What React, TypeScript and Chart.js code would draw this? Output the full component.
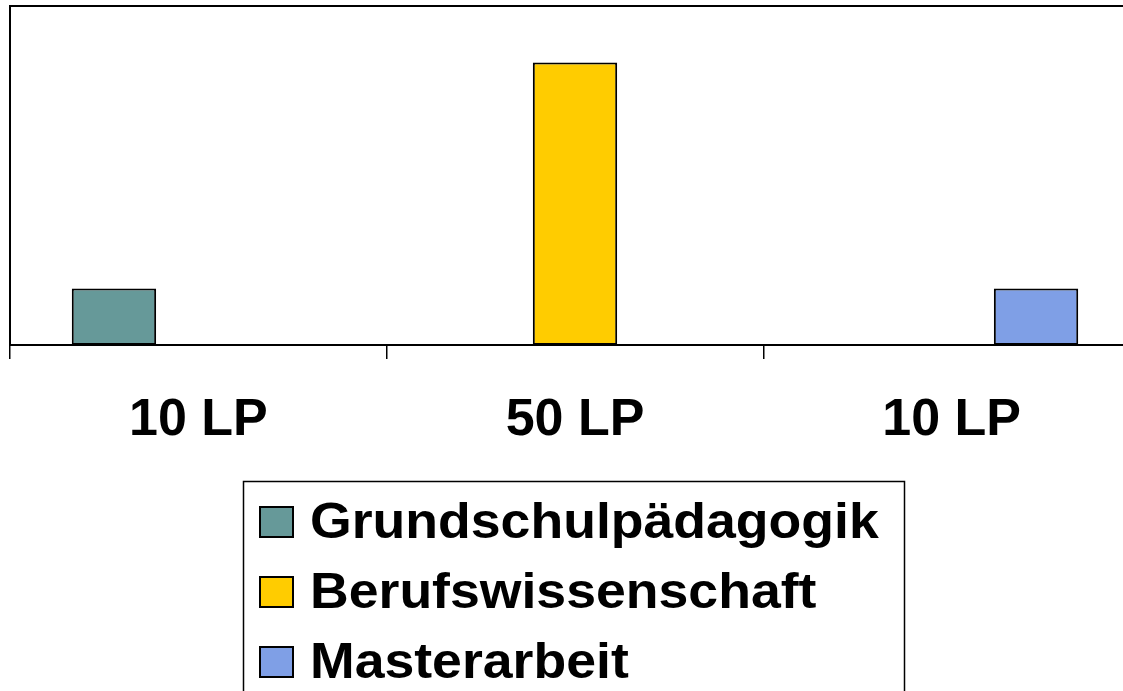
import React, { useEffect, useRef } from "react";
import { Chart, registerables } from "chart.js";

Chart.register(...registerables);

const categories = ["10 LP", "50 LP", "10 LP"];
const seriesNames = ["Grundschulpädagogik", "Berufswissenschaft", "Masterarbeit"];
const grundschulValues = [10, null, null];
const berufValues = [null, 50, null];
const masterValues = [null, null, 10];
const seriesColors = ["#669999", "#FFCC00", "#7F9FE6"];
const yMax = 60;

const FONT = '"Liberation Sans", Arial, Helvetica, sans-serif';

const framePlugin = {
  id: "frame",
  afterDatasetsDraw(chart: any) {
    const { ctx, chartArea } = chart;
    ctx.save();
    ctx.strokeStyle = "#000";
    ctx.lineWidth = 2;
    ctx.beginPath();
    ctx.moveTo(chartArea.left, chartArea.bottom);
    ctx.lineTo(chartArea.left, chartArea.top);
    ctx.lineTo(chartArea.right, chartArea.top);
    ctx.lineTo(chartArea.right, chartArea.bottom);
    ctx.stroke();
    ctx.restore();
  },
};

const boxLegendPlugin = {
  id: "boxLegend",
  afterDraw(chart: any) {
    const { ctx } = chart;
    const boxLeft = 243.5;
    const boxTop = 481.5;
    const boxRight = 904.5;
    const boxBottom = 760;
    ctx.save();
    ctx.strokeStyle = "#000";
    ctx.lineWidth = 1.5;
    ctx.strokeRect(boxLeft, boxTop, boxRight - boxLeft, boxBottom - boxTop);
    const rowStart = 522;
    const rowGap = 70;
    chart.data.datasets.forEach((ds: any, i: number) => {
      const cy = rowStart + i * rowGap;
      ctx.fillStyle = ds.backgroundColor;
      ctx.fillRect(260, cy - 15, 33, 30);
      ctx.lineWidth = 2;
      ctx.strokeStyle = "#000";
      ctx.strokeRect(260, cy - 15, 33, 30);
      ctx.fillStyle = "#000";
      ctx.font = `bold 50px ${FONT}`;
      ctx.textBaseline = "middle";
      ctx.textAlign = "left";
      ctx.save();
      ctx.translate(310, cy + 2);
      ctx.scale(1.072, 1);
      ctx.fillText(ds.label, 0, 0);
      ctx.restore();
    });
    ctx.restore();
  },
};

export default function App() {
  const canvasRef = useRef<HTMLCanvasElement | null>(null);

  useEffect(() => {
    document.body.style.margin = "0";
    const canvas = canvasRef.current;
    if (!canvas) return;
    const values = [grundschulValues, berufValues, masterValues];
    const chart = new Chart(canvas, {
      type: "bar",
      data: {
        labels: categories,
        datasets: seriesNames.map((name, i) => ({
          label: name,
          data: values[i] as any,
          backgroundColor: seriesColors[i],
          borderColor: "#000",
          borderWidth: 2,
          borderSkipped: false,
          categoryPercentage: 0.672,
          barPercentage: 1,
        })),
      },
      options: {
        responsive: false,
        animation: false,
        devicePixelRatio: 1,
        layout: { padding: { left: 10, top: 6, right: 20, bottom: 246 } },
        plugins: {
          legend: { display: false },
          tooltip: { enabled: false },
        },
        scales: {
          x: {
            offset: true,
            grid: {
              display: true,
              offset: true,
              drawOnChartArea: false,
              drawTicks: true,
              tickLength: 14,
              color: "#000",
              lineWidth: 1.5,
            },
            border: { display: true, color: "#000", width: 2 },
            ticks: {
              color: "#000",
              padding: 30,
              font: { family: FONT, size: 52, weight: "bold" },
              maxRotation: 0,
              autoSkip: false,
            },
            afterFit: (s: any) => {
              s.height = 100;
            },
          },
          y: {
            display: false,
            min: 0,
            max: yMax,
          },
        },
      },
      plugins: [framePlugin, boxLegendPlugin],
    });
    return () => chart.destroy();
  }, []);

  return (
    <div
      style={{
        position: "fixed",
        left: 0,
        top: 0,
        width: 1123,
        height: 691,
        overflow: "hidden",
        background: "#fff",
      }}
    >
      <canvas ref={canvasRef} width={1160} height={691} style={{ display: "block" }} />
    </div>
  );
}
